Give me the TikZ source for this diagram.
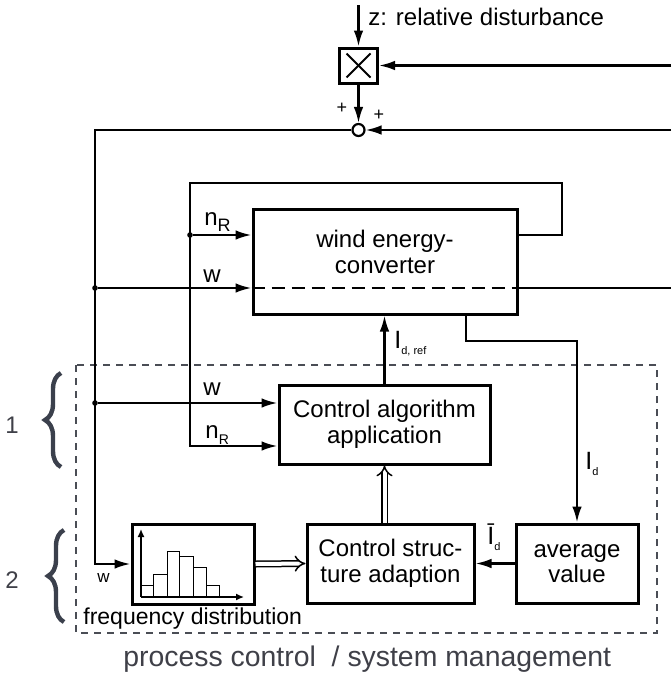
\documentclass[tikz,border=0pt]{standalone}
\usepackage{fontspec}
\setmainfont{Liberation Sans}
\usepackage{xcolor}
\usepackage{tikz}
\usetikzlibrary{arrows.meta,decorations.pathreplacing}
\definecolor{mFrame}{HTML}{4A4D55}
\definecolor{mBrace}{HTML}{3B404C}
\definecolor{mGrey}{HTML}{3F4048}
\newcommand{\lowsub}[2]{\raisebox{-3pt}{\fontsize{#1}{#1}\selectfont #2}}
\tikzset{
  blk/.style={draw, line width=1.5pt, align=center, inner sep=0pt},
  ln/.style={line width=1.1pt},
  arr/.style={ln, -{Latex[length=8pt,width=4.8pt]}},
  dbl/.style={double, double distance=2pt, line width=0.75pt, -{Implies}},
  dot/.style={circle, fill, inner sep=0pt, minimum size=2.8pt},
  sumc/.style={circle, draw, fill=white, line width=1.1pt, inner sep=0pt, minimum size=6pt},
  txt/.style={inner sep=0pt},
  plus/.style={inner sep=0pt, font=\fontsize{9}{9}\selectfont},
  frm/.style={mFrame, line width=1pt, dash pattern=on 3.5pt off 3pt},
  brc/.style={mBrace, line width=2.2pt, decorate, decoration={brace, amplitude=8pt}},
  ax/.style={line width=0.7pt, -{Latex[length=4pt,width=3.5pt]}},
}

\begin{document}
\begin{tikzpicture}[x=0.5pt, y=-0.5pt, font=\fontsize{12}{12.8}\selectfont]
\useasboundingbox (0,0) rectangle (671,675);
% management frame
\draw[frm] (76,365) rectangle (657,633);
% blocks
\node[blk, minimum width=19pt, minimum height=17.5pt] (mult) at (358.5,65.5) {};
\draw[line width=0.9pt] ([shift={(-12,-12)}]mult.center) -- ([shift={(12,12)}]mult.center);
\draw[line width=0.9pt] ([shift={(-12,12)}]mult.center) -- ([shift={(12,-12)}]mult.center);
\node[sumc] (sum) at (358.5,130) {};
\node[blk, minimum width=132pt, minimum height=52.5pt] (conv) at (385,261.5) {};
\node[align=center, txt] (convtxt) at (385,252) {wind energy-\\converter};
\node[blk, minimum width=105.5pt, minimum height=39.5pt] (algo) at (384.5,424.5) {Control algorithm\\application};
\node[blk, minimum width=83.5pt, minimum height=39.5pt] (adapt) at (390.5,563.5) {Control struc-\\ture adaption};
\node[blk, minimum width=61pt, minimum height=39.5pt] (avg) at (577,563.5) {average\\value};
\node[blk, minimum width=61pt, minimum height=40pt] (freq) at (193,564) {};
% histogram
\foreach \xa/\xb/\yt in {141/153/585,153/167/574,167/179/551,179/193/556,193/206/567,206/219/585}
  \draw[line width=0.5pt] (\xa,597) rectangle (\xb,\yt);
\draw[ax] (141,597) -- (141,529);
\draw[ax] (141,597) -- (244,597);
% junctions and corners
\coordinate (zin) at (358.5,5);
\coordinate (fbm) at (671,65.5);
\coordinate (fbs) at (671,130);
\coordinate (cl) at (95,130);
\node[dot] (jw1) at (95,288) {};
\node[dot] (jw2) at (95,403) {};
\coordinate (wout) at (671,288);
\node[dot] (jn1) at (190,235) {};
\coordinate (lpR) at (562,183);
\coordinate (lpL) at (190,183);
\coordinate (jn2) at (190,446);
\coordinate (idx) at (466,341);
% connections
\draw[arr] (zin) -- (mult.north);
\draw[arr] (fbm) -- (mult.east);
\draw[arr] (mult.south) -- (sum.north);
\draw[arr] (fbs) -- (sum.east);
\draw[arr] (sum.west) -- (cl) -- (cl |- freq.west) -- (freq.west);
\draw[arr] (jw1) -- (jw1 -| conv.west);
\draw[ln, dash pattern=on 6.5pt off 3.5pt] (jw1 -| conv.west) -- (jw1 -| conv.east);
\draw[ln] (jw1 -| conv.east) -- (wout);
\draw[arr] (jw2) -- (jw2 -| algo.west);
\draw[arr] (jn1 -| conv.east) -- (jn1 -| lpR) -- (lpR) -- (lpL) -- (jn2) -- (jn2 -| algo.west);
\draw[arr] (jn1) -- (jn1 -| conv.west);
\draw[arr] (algo.north) -- (algo.north |- conv.south);
\draw[arr] (idx |- conv.south) -- (idx) -- (idx -| avg.north) -- (avg.north);
\draw[arr] (avg.west) -- (adapt.east);
\draw[dbl] (algo.south |- adapt.north) -- (algo.south);
\draw[dbl] (freq.east) -- (adapt.west);
% labels
\node[txt, anchor=base west] (zlbl) at (368,25) {z: relative disturbance};
\node[plus] (p1) at (342,108) {+};
\node[plus] (p2) at (379,115) {+};
\node[txt, anchor=base west] (nr1) at (204,225) {n\lowsub{9}{R}};
\node[txt, anchor=base] (w1) at (212,282) {w};
\node[txt, anchor=base] (w2) at (212,395) {w};
\node[txt, anchor=base west] (nr2) at (205,438) {n\lowsub{7}{R}};
\node[txt, anchor=base, font=\fontsize{8.5}{9}\selectfont] (w3) at (103.5,582) {w};
\node[txt, anchor=base west, font=\fontsize{12.5}{13}\selectfont] (idref) at (394,348) {I\lowsub{5.5}{d, ref}};
\node[txt, anchor=base west, font=\fontsize{12.5}{13}\selectfont] (id) at (585,469) {I\lowsub{5.5}{d}};
\node[txt, anchor=base west, font=\fontsize{12.5}{13}\selectfont] (idbar) at (487,544) {\=I\lowsub{5.5}{d}};
\node[txt, anchor=base west, font=\fontsize{11.5}{12}\selectfont] (fdlbl) at (83,624) {frequency distribution};
\node[txt, anchor=base west, mGrey, font=\fontsize{14.2}{15}\selectfont] (pclbl) at (123,666) {process control\ \ / system management};
\node[txt, mGrey, font=\fontsize{12}{12}\selectfont] (n1) at (12,425) {1};
\node[txt, mGrey, font=\fontsize{12}{12}\selectfont] (n2) at (12,580) {2};
% braces
\draw[brc] (61,467) -- (61,373);
\draw[brc] (64,622) -- (64,530);
\end{tikzpicture}
\end{document}
